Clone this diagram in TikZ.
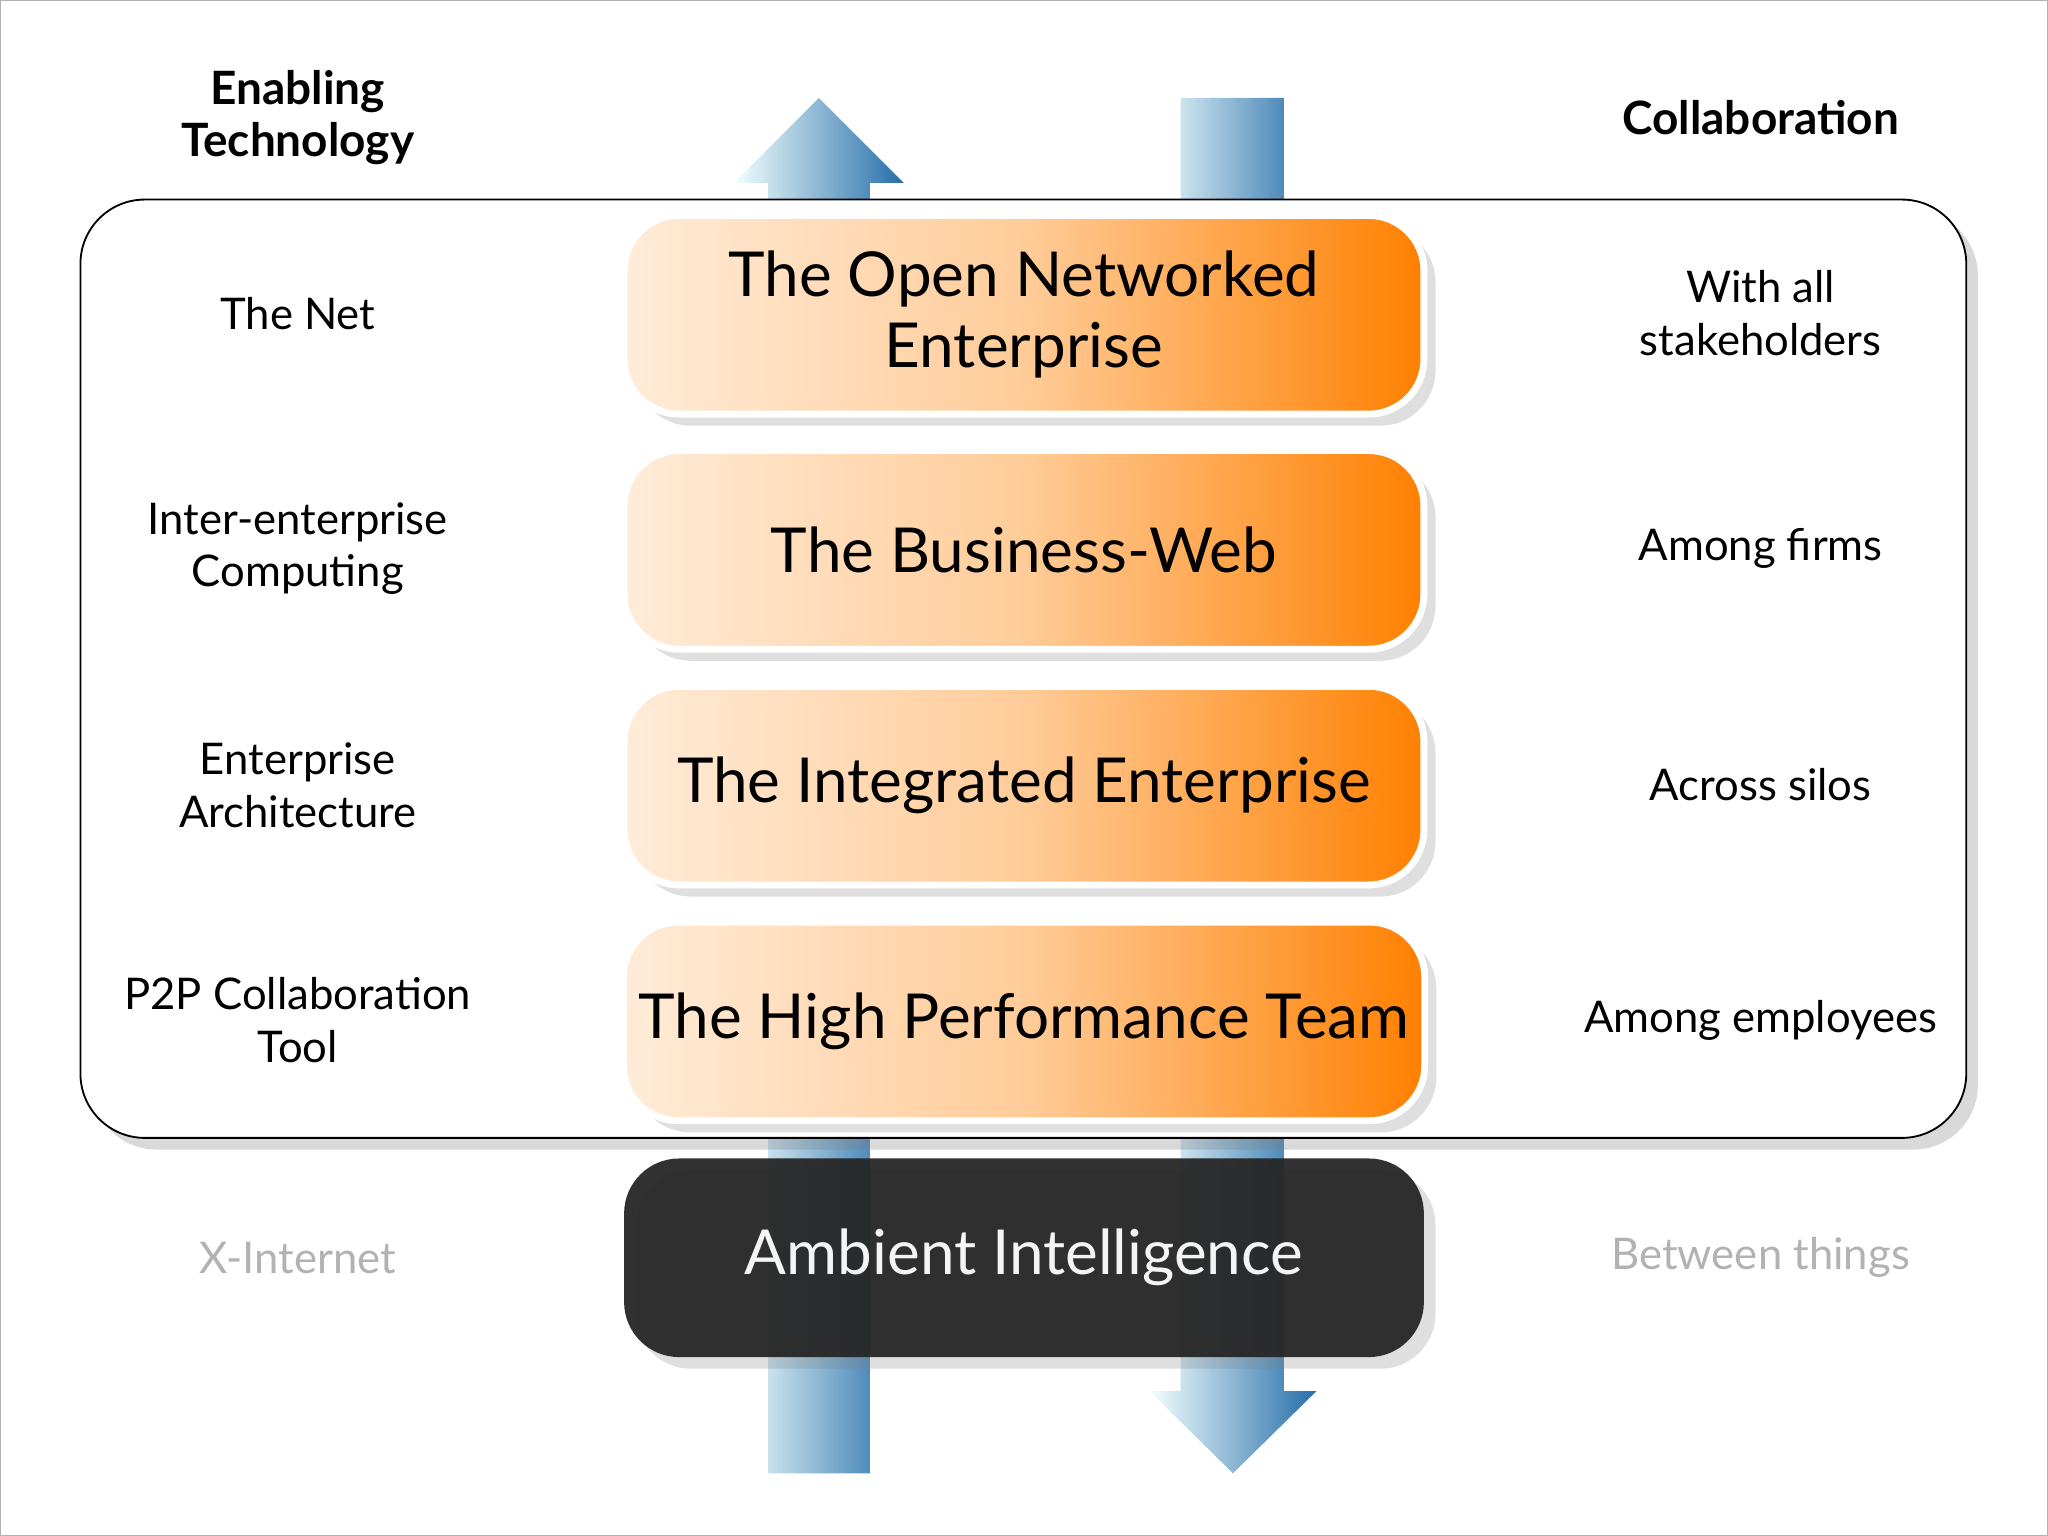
\documentclass[tikz,border=0pt]{standalone}
\usepackage{fontspec}
\setmainfont{Lato}
\usetikzlibrary{shadows}
\begin{document}
\begin{tikzpicture}[x=0.01cm,y=-0.01cm,
  arr/.style={left color=blue!5!cyan!5!white, right color=blue!45!cyan!60!black!85, draw=none},
  obox/.style={rounded corners=12pt, draw=white, line width=1.5pt, top color=orange!15!white, bottom color=orange!35!white, right color=orange, middle color=orange!40!white, drop shadow={opacity=0.25}},
  side/.style={align=center, font=\fontsize{9.5}{11.5}\selectfont},
  btxt/.style={align=center, font=\fontsize{13.5}{15.5}\selectfont},
  head/.style={align=center, font=\fontsize{10}{11.5}\selectfont\bfseries}]
\useasboundingbox (0,0) rectangle (1568,1176);
\draw[gray!60] (0,0) rectangle (1568,1176);
% arrows
\shade[arr] (588,1128) -- (588,140) -- (562,140) -- (627,75) -- (692,140) -- (666,140) -- (666,1128) -- cycle;
\shade[arr] (904,75) -- (983,75) -- (983,1065) -- (1008,1065) -- (944,1128) -- (880,1065) -- (904,1065) -- cycle;
% outer box
\node[draw=black, fill=white, rounded corners=14pt, minimum width=14.43cm, minimum height=7.18cm, drop shadow={opacity=0.3}] (frame) at (783.5,512) {};
% orange boxes
\foreach \n/\y/\t in {a/241/{The Open Networked\\Enterprise}, b/421/{The Business-Web}, c/601.5/{The Integrated Enterprise}, d/782/{The High Performance Team}}{
  \node[obox, minimum width=6.12cm, minimum height=1.52cm, btxt] (\n) at (784,\y) {\t};
}
\node[fill=black!85, opacity=0.95, rounded corners=12pt, minimum width=6.12cm, minimum height=1.52cm, btxt, text=white, drop shadow={opacity=0.25}] (e) at (784,963) {Ambient Intelligence};
% headings
\node[head] (h1) at (228,90) {Enabling\\Technology};
\node[head] (h2) at (1348,90) {Collaboration};
% side texts
\node[side] (l1) at (228,240) {The Net};
\node[side] (l2) at (228,420) {Inter-enterprise\\Computing};
\node[side] (l3) at (228,601) {Enterprise\\Architecture};
\node[side] (l4) at (228,781) {P2P Collaboration\\Tool};
\node[side, text=gray!60] (l5) at (228,963) {X-Internet};
\node[side] (r1) at (1348,240) {With all\\stakeholders};
\node[side] (r2) at (1348,420) {Among firms};
\node[side] (r3) at (1348,601) {Across silos};
\node[side] (r4) at (1348,781) {Among employees};
\node[side, text=gray!60] (r5) at (1348,963) {Between things};
\end{tikzpicture}
\end{document}
